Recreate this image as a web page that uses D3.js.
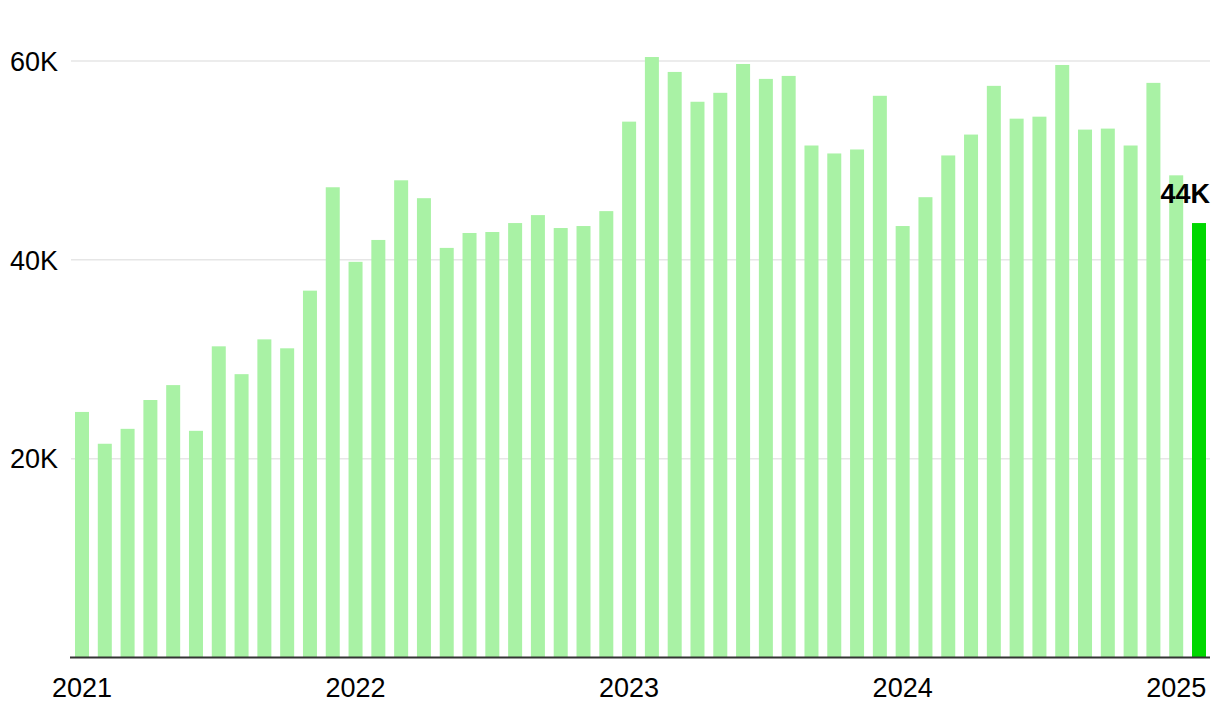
<!DOCTYPE html>
<html>
<head>
<meta charset="utf-8">
<script src="https://cdn.jsdelivr.net/npm/d3@7"></script>
<style>
  html, body { margin: 0; padding: 0; background: #fff; }
  svg { display: block; }
  text { font-family: "Liberation Sans", Arial, sans-serif; }
</style>
</head>
<body>
<svg id="chart" width="1220" height="726"></svg>
<script>
// Monthly values (thousands), Jan 2021 – Feb 2025
const months = [
  "2021-01","2021-02","2021-03","2021-04","2021-05","2021-06","2021-07","2021-08","2021-09","2021-10","2021-11","2021-12",
  "2022-01","2022-02","2022-03","2022-04","2022-05","2022-06","2022-07","2022-08","2022-09","2022-10","2022-11","2022-12",
  "2023-01","2023-02","2023-03","2023-04","2023-05","2023-06","2023-07","2023-08","2023-09","2023-10","2023-11","2023-12",
  "2024-01","2024-02","2024-03","2024-04","2024-05","2024-06","2024-07","2024-08","2024-09","2024-10","2024-11","2024-12",
  "2025-01","2025-02"
];
const values = [
  24.7, 21.5, 23.0, 25.9, 27.4, 22.8, 31.3, 28.5, 32.0, 31.1, 36.9, 47.3,
  39.8, 42.0, 48.0, 46.2, 41.2, 42.7, 42.8, 43.7, 44.5, 43.2, 43.4, 44.9,
  53.9, 60.4, 58.9, 55.9, 56.8, 59.7, 58.2, 58.5, 51.5, 50.7, 51.1, 56.5,
  43.4, 46.3, 50.5, 52.6, 57.5, 54.2, 54.4, 59.6, 53.1, 53.2, 51.5, 57.8,
  48.5, 43.7
];
const yTicks = [20, 40, 60];
const yTickLabels = ["20K", "40K", "60K"];
const xTickMonths = ["2021-01", "2022-01", "2023-01", "2024-01", "2025-01"];
const xTickLabels = ["2021", "2022", "2023", "2024", "2025"];
const highlightLabel = "44K";

const data = months.map((m, i) => ({ month: m, value: values[i] }));

const svg = d3.select("#chart");
const plotLeft = 70.6, plotRight = 1210.4, plotTop = 61, plotBottom = 657.5;

const x = d3.scaleBand()
  .domain(months)
  .range([plotLeft, plotRight])
  .paddingInner(0.386)
  .paddingOuter(0.193);

const y = d3.scaleLinear()
  .domain([0, 60])
  .range([plotBottom, plotTop]);

// gridlines
svg.append("g")
  .selectAll("line")
  .data(yTicks)
  .join("line")
  .attr("x1", 71)
  .attr("x2", 1210)
  .attr("y1", d => y(d))
  .attr("y2", d => y(d))
  .attr("stroke", "#e6e6e6")
  .attr("stroke-width", 1.5);

// y labels
svg.append("g")
  .selectAll("text")
  .data(yTicks)
  .join("text")
  .attr("x", 10)
  .attr("y", d => y(d))
  .attr("dy", "0.36em")
  .attr("font-size", 27)
  .attr("fill", "#000")
  .text((d, i) => yTickLabels[i]);

// bars
const last = months[months.length - 1];
svg.append("g")
  .selectAll("rect")
  .data(data)
  .join("rect")
  .attr("x", d => x(d.month))
  .attr("width", x.bandwidth())
  .attr("y", d => y(d.value))
  .attr("height", d => y(0) - y(d.value))
  .attr("fill", d => d.month === last ? "#00d800" : "#a9f2a5");

// x axis line
svg.append("line")
  .attr("x1", 70)
  .attr("x2", 1210)
  .attr("y1", y(0))
  .attr("y2", y(0))
  .attr("stroke", "#333")
  .attr("stroke-width", 2);

// x labels
svg.append("g")
  .selectAll("text")
  .data(xTickMonths)
  .join("text")
  .attr("x", d => x(d) + x.bandwidth() / 2)
  .attr("y", 697)
  .attr("text-anchor", "middle")
  .attr("font-size", 27)
  .attr("fill", "#000")
  .text((d, i) => xTickLabels[i]);

// highlight label
const lastDatum = data[data.length - 1];
svg.append("text")
  .attr("x", x(lastDatum.month) + x.bandwidth() + 4)
  .attr("y", y(lastDatum.value) - 20)
  .attr("text-anchor", "end")
  .attr("font-size", 27)
  .attr("font-weight", "bold")
  .attr("fill", "#000")
  .text(highlightLabel);
</script>
</body>
</html>
